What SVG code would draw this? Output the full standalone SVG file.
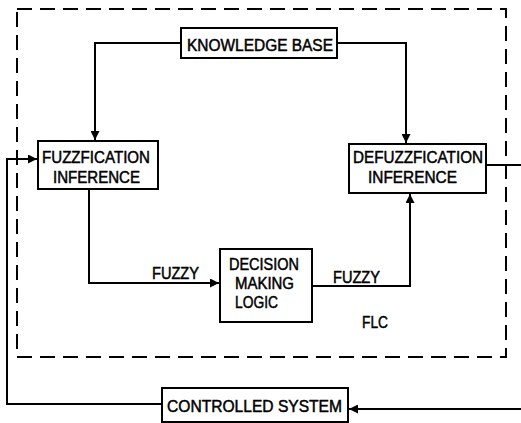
<svg xmlns="http://www.w3.org/2000/svg" width="521" height="423" viewBox="0 0 521 423">
<defs>
<marker id="ah" viewBox="0 0 10 10" refX="10" refY="5" markerWidth="9" markerHeight="9" markerUnits="userSpaceOnUse" orient="auto">
<path d="M0,0 L10,5 L0,10 z" fill="#000"/>
</marker>
</defs>
<style>
.box{fill:#fff;stroke:#000;stroke-width:2}
.ln{fill:none;stroke:#000;stroke-width:2}
text{font-family:"Liberation Sans",Arial,sans-serif;font-size:17px;fill:#000;stroke:#000;stroke-width:0.5}
</style>
<rect x="0" y="0" width="521" height="423" fill="#fff"/>
<rect x="17" y="9" width="489" height="348" fill="none" stroke="#000" stroke-width="2" stroke-dasharray="15,8"/>
<g id="connectors">
<path class="ln" d="M181,43 H95 V140" marker-end="url(#ah)"/>
<path class="ln" d="M337,43 H406 V143" marker-end="url(#ah)"/>
<path class="ln" d="M89,189 V283 H219" marker-end="url(#ah)"/>
<path class="ln" d="M312,286 H410 V194" marker-end="url(#ah)"/>
<path class="ln" d="M486,165 H521"/>
<path class="ln" d="M521,409 H349" marker-end="url(#ah)"/>
<path class="ln" d="M162,404 H7 V159 H37" marker-end="url(#ah)"/>
<text x="152" y="279" textLength="47" lengthAdjust="spacingAndGlyphs">FUZZY</text>
<text x="333" y="283" textLength="47" lengthAdjust="spacingAndGlyphs">FUZZY</text>
</g>
<g id="knowledge-base">
<rect class="box" x="181" y="28" width="156" height="30"/>
<text x="187" y="51" textLength="146" lengthAdjust="spacingAndGlyphs">KNOWLEDGE BASE</text>
</g>
<g id="fuzzification">
<rect class="box" x="38" y="141" width="120" height="48"/>
<text x="42" y="163" textLength="108" lengthAdjust="spacingAndGlyphs">FUZZFICATION</text>
<text x="53" y="183" textLength="87" lengthAdjust="spacingAndGlyphs">INFERENCE</text>
</g>
<g id="defuzzification">
<rect class="box" x="349" y="144" width="137" height="49"/>
<text x="353" y="163" textLength="130" lengthAdjust="spacingAndGlyphs">DEFUZZFICATION</text>
<text x="368" y="183" textLength="89" lengthAdjust="spacingAndGlyphs">INFERENCE</text>
</g>
<g id="decision">
<rect class="box" x="220" y="249" width="92" height="73"/>
<text x="229" y="270" textLength="70" lengthAdjust="spacingAndGlyphs">DECISION</text>
<text x="235" y="289" textLength="59" lengthAdjust="spacingAndGlyphs">MAKING</text>
<text x="235" y="308" textLength="43" lengthAdjust="spacingAndGlyphs">LOGIC</text>
</g>
<g id="flc-label">
<text x="362" y="328" textLength="26" lengthAdjust="spacingAndGlyphs">FLC</text>
</g>
<g id="controlled-system">
<rect class="box" x="162" y="388" width="186" height="34"/>
<text x="167" y="412" textLength="175" lengthAdjust="spacingAndGlyphs">CONTROLLED SYSTEM</text>
</g>
</svg>
